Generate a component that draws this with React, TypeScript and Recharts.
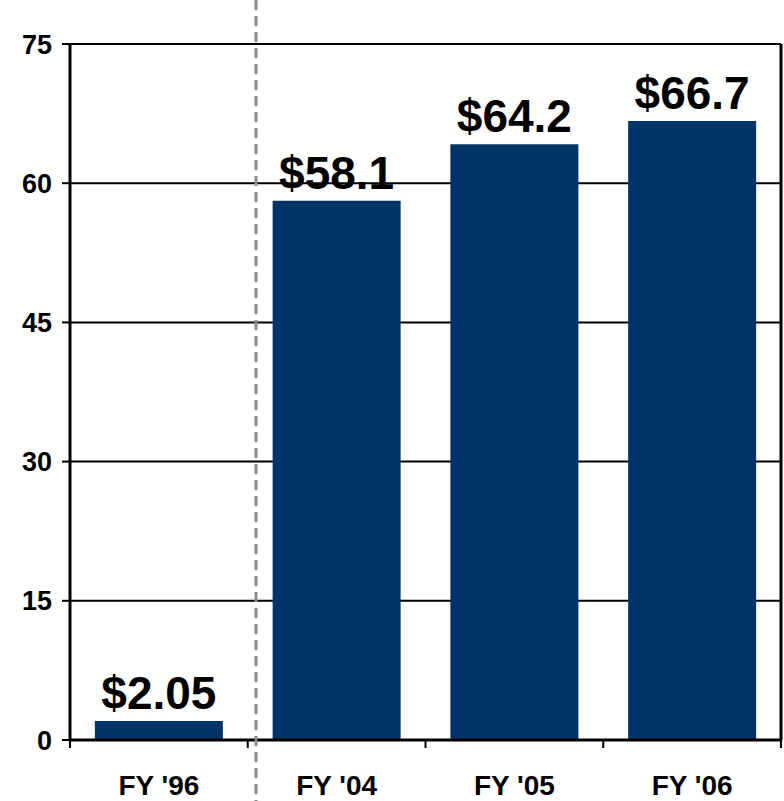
import React from 'react'
import {
  BarChart,
  Bar,
  XAxis,
  YAxis,
  CartesianGrid,
  LabelList,
} from 'recharts'

// ── Data ──────────────────────────────────────────────────
const years = ["FY '96", "FY '04", "FY '05", "FY '06"]
const amounts = [2.05, 58.1, 64.2, 66.7]
const yTicks = [0, 15, 30, 45, 60, 75]

const data = years.map((year, i) => ({ year, amount: amounts[i] }))

const FONT = '"Liberation Sans", Arial, sans-serif'
const NAVY = '#003366'

// ── Custom x tick: tick marks at category boundaries ─────────
function XTick(props: any) {
  const { x, y, payload, index } = props
  const half = payload?.offset ?? 88.875
  const isLast = index === years.length - 1
  return (
    <g>
      <line x1={x - half} y1={y} x2={x - half} y2={y + 8} stroke="#000" strokeWidth={2} />
      {isLast && (
        <line x1={x + half} y1={y} x2={x + half} y2={y + 8} stroke="#000" strokeWidth={2} />
      )}
      <text
        x={x}
        y={y + 55}
        textAnchor="middle"
        fontFamily={FONT}
        fontWeight="bold"
        fontSize={28}
        fill="#000"
      >
        {payload.value}
      </text>
    </g>
  )
}

export default function App() {
  return (
    <div style={{ position: 'absolute', left: 0, top: 0, width: 784, height: 801, background: '#fff' }}>
      <BarChart
        width={784}
        height={801}
        data={data}
        margin={{ top: 44, right: 2, bottom: 0, left: 0 }}
        barCategoryGap="14%"
      >
        <CartesianGrid vertical={false} stroke="#000" strokeWidth={2} yAxisId="left" />
        <XAxis
          dataKey="year"
          height={61}
          tickSize={0}
          tickMargin={0}
          tickLine={false}
          axisLine={{ stroke: '#000', strokeWidth: 3 }}
          tick={<XTick />}
          interval={0}
        />
        <YAxis
          yAxisId="left"
          width={70}
          domain={[0, 75]}
          ticks={yTicks}
          tickSize={8}
          tickMargin={10}
          tickLine={{ stroke: '#000', strokeWidth: 2 }}
          axisLine={{ stroke: '#000', strokeWidth: 3 }}
          tick={{ fill: '#000', fontSize: 27, fontWeight: 'bold', fontFamily: FONT }}
        />
        <YAxis
          yAxisId="right"
          orientation="right"
          width={1}
          domain={[0, 75]}
          tick={false}
          tickLine={false}
          axisLine={{ stroke: '#000', strokeWidth: 3 }}
        />
        <Bar dataKey="amount" yAxisId="left" fill={NAVY} isAnimationActive={false}>
          <LabelList
            dataKey="amount"
            position="top"
            offset={12}
            formatter={(v: any) => `$${v}`}
            style={{ fill: '#000', fontSize: 46, fontWeight: 'bold', fontFamily: FONT }}
          />
        </Bar>
      </BarChart>
      <svg
        width={784}
        height={801}
        style={{ position: 'absolute', left: 0, top: 0, pointerEvents: 'none' }}
      >
        <line x1={256} y1={0} x2={256} y2={801} stroke="#8a8a8a" strokeWidth={3} strokeDasharray="10 6" />
      </svg>
    </div>
  )
}
